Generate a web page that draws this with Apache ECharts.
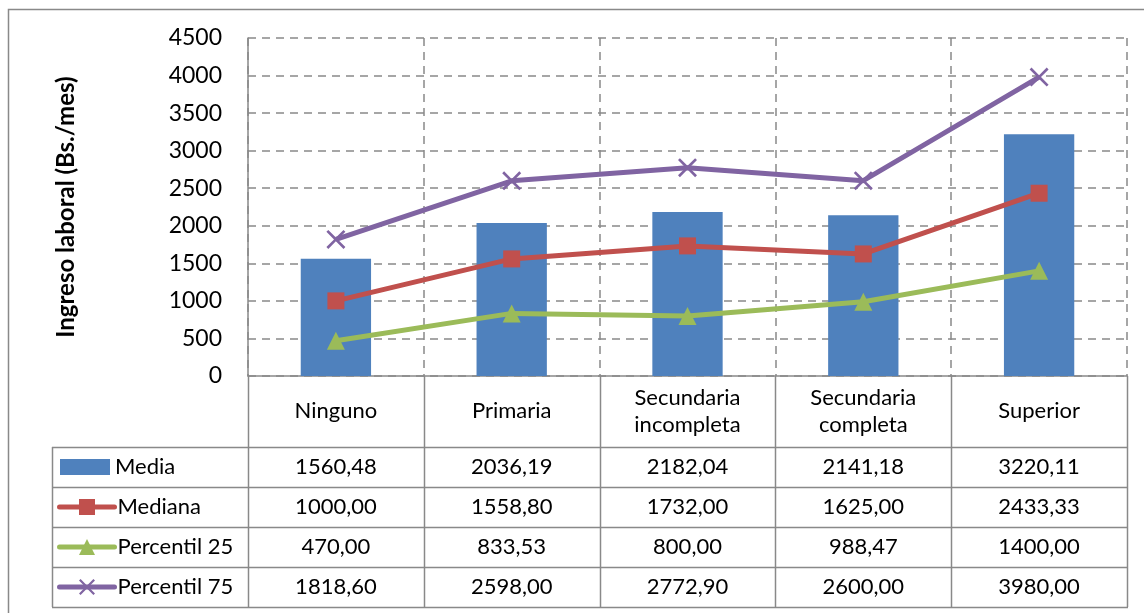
<!DOCTYPE html>
<html>
<head>
<meta charset="utf-8">
<script src="https://cdn.jsdelivr.net/npm/echarts@6/dist/echarts.min.js"></script>
<style>
  html, body { margin: 0; padding: 0; background: #fff; }
  #main { width: 1144px; height: 613px; }
</style>
</head>
<body>
<div id="main"></div>
<script>
// data
var categories = ['Ninguno', 'Primaria', 'Secundaria\nincompleta', 'Secundaria\ncompleta', 'Superior'];
var media = [1560.48, 2036.19, 2182.04, 2141.18, 3220.11];
var mediana = [1000.00, 1558.80, 1732.00, 1625.00, 2433.33];
var percentil25 = [470.00, 833.53, 800.00, 988.47, 1400.00];
var percentil75 = [1818.60, 2598.00, 2772.90, 2600.00, 3980.00];
var seriesNames = ['Media', 'Mediana', 'Percentil 25', 'Percentil 75'];
var yMin = 0, yMax = 4500, yStep = 500;

var FONT = 'Lato';
var GRID_L = 248, GRID_R = 1127, GRID_T = 38, GRID_B = 376;
var ROW_TOP = 447, ROW_H = 40;
var TABLE_L = 52;
var LINE = '#898989';

var crossPath = 'path://M2,0 L10,8 L18,0 L20,2 L12,10 L20,18 L18,20 L10,12 L2,20 L0,18 L8,10 L0,2 Z';

function fmt(v) { return v.toFixed(2).replace('.', ','); }

var chart = echarts.init(document.getElementById('main'));

// data table under the plot
var cellW = (GRID_R - GRID_L) / categories.length;
var rows = [media, mediana, percentil25, percentil75];
var graphics = [];
graphics.push({
  type: 'rect', silent: true,
  shape: { x: 8.5, y: 9.5, width: 1200, height: 700 },
  style: { fill: 'none', stroke: LINE, lineWidth: 1.5 }
});
for (var i = 0; i <= categories.length; i++) {
  var x = Math.round(GRID_L + i * cellW) + 0.5;
  graphics.push({
    type: 'line', silent: true,
    shape: { x1: x, y1: GRID_B, x2: x, y2: ROW_TOP + rows.length * ROW_H },
    style: { stroke: LINE, lineWidth: 1.5 }
  });
}
graphics.push({
  type: 'line', silent: true,
  shape: { x1: TABLE_L + 0.5, y1: ROW_TOP, x2: TABLE_L + 0.5, y2: ROW_TOP + rows.length * ROW_H },
  style: { stroke: LINE, lineWidth: 1.5 }
});
for (var r = 0; r <= rows.length; r++) {
  var y = ROW_TOP + r * ROW_H + 0.5;
  graphics.push({
    type: 'line', silent: true,
    shape: { x1: TABLE_L, y1: y, x2: GRID_R + 1, y2: y },
    style: { stroke: LINE, lineWidth: 1.5 }
  });
}
rows.forEach(function (vals, r) {
  vals.forEach(function (v, c) {
    graphics.push({
      type: 'text', silent: true,
      x: GRID_L + (c + 0.5) * cellW,
      y: ROW_TOP + (r + 0.5) * ROW_H,
      style: {
        text: fmt(v), fill: '#000', font: '22px ' + FONT,
        align: 'center', verticalAlign: 'middle'
      }
    });
  });
});

// one legend per table row, so each key sits in its own cell
var legends = seriesNames.map(function (name, r) {
  var isBar = r === 0;
  return {
    left: isBar ? 60 : 57,
    top: ROW_TOP + r * ROW_H + (ROW_H - 22) / 2,
    padding: 0,
    itemWidth: isBar ? 50 : 55,
    itemHeight: isBar ? 16 : 20,
    itemGap: 0,
    icon: isBar ? 'rect' : undefined,
    lineStyle: { width: 5, cap: 'round' },
    data: [name],
    textStyle: { fontFamily: FONT, fontSize: 22, color: '#000', lineHeight: 22, padding: [0, 0, 0, isBar ? 0 : -2] }
  };
});

var option = {
  animation: false,
  backgroundColor: '#fff',
  grid: { left: GRID_L, right: 1144 - GRID_R, top: GRID_T, bottom: 613 - GRID_B },
  legend: legends,
  xAxis: {
    type: 'category',
    data: categories,
    axisLine: { lineStyle: { color: LINE, width: 1.5 } },
    axisTick: { show: false },
    axisLabel: {
      fontFamily: FONT, fontSize: 22, color: '#000', margin: 35,
      verticalAlign: 'middle', lineHeight: 27, interval: 0
    },
    splitLine: { show: true, lineStyle: { color: LINE, type: [8, 6], width: 1.5 } }
  },
  yAxis: {
    type: 'value',
    min: yMin, max: yMax, interval: yStep,
    name: 'Ingreso laboral (Bs./mes)',
    nameLocation: 'middle',
    nameGap: 170,
    nameTextStyle: { fontFamily: FONT, fontSize: 24, fontWeight: 'bold', color: '#000' },
    axisLine: { show: true, lineStyle: { color: LINE, width: 1.5 } },
    axisTick: { show: false },
    axisLabel: {
      fontFamily: FONT, fontSize: 23, color: '#000', margin: 26,
      formatter: function (v) { return String(v); }
    },
    splitLine: { lineStyle: { color: LINE, type: [8, 6], width: 1.5 } }
  },
  series: [
    {
      name: seriesNames[0], type: 'bar', data: media, barWidth: '40%',
      itemStyle: { color: '#4F81BD' }
    },
    {
      name: seriesNames[1], type: 'line', data: mediana,
      symbol: 'rect', symbolSize: 17,
      lineStyle: { color: '#C0504D', width: 5 },
      itemStyle: { color: '#C0504D' }
    },
    {
      name: seriesNames[2], type: 'line', data: percentil25,
      symbol: 'triangle', symbolSize: 18,
      lineStyle: { color: '#9BBB59', width: 5 },
      itemStyle: { color: '#9BBB59' }
    },
    {
      name: seriesNames[3], type: 'line', data: percentil75,
      symbol: crossPath, symbolSize: 19,
      lineStyle: { color: '#8064A2', width: 5 },
      itemStyle: { color: '#8064A2' }
    }
  ],
  graphic: graphics
};

chart.setOption(option);
</script>
</body>
</html>
